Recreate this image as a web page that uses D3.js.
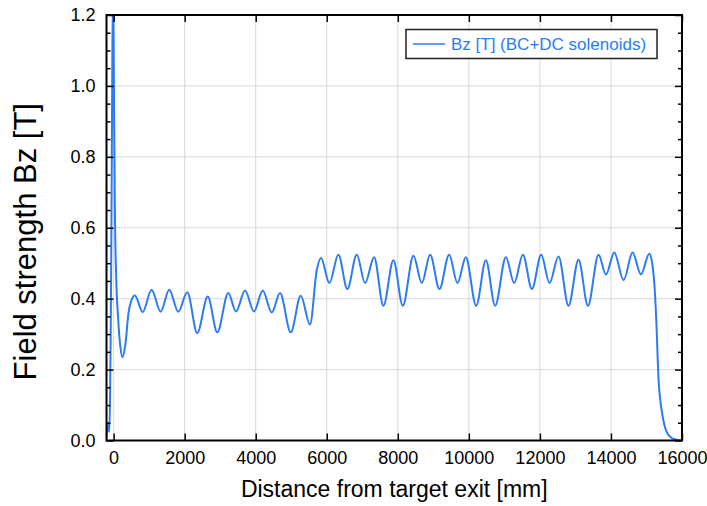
<!DOCTYPE html>
<html>
<head>
<meta charset="utf-8">
<script src="https://cdn.jsdelivr.net/npm/d3@7"></script>
<style>
  html, body { margin: 0; padding: 0; background: #fff; }
  svg { display: block; font-family: "Liberation Sans", Arial, Helvetica, sans-serif; }
</style>
</head>
<body>
<svg id="chart" width="707" height="506"></svg>
<script>
// Axial field profile along the beam line: position [mm] and Bz [T]
const zPos = [
  -200, -180, -160, -140, -120, -100, -80, -60, -40, -22, -5, 15, 40, 70, 130, 190, 250, 330, 420, 500,
  600, 817, 1070, 1324, 1566, 1820, 2073, 2355, 2650, 2918,
  3228, 3445, 3699, 3952, 4197, 4451, 4685, 4986, 5268, 5530,
  5718, 5839, 6073, 6327, 6580, 6845, 7079, 7332, 7594, 7876,
  8141, 8440, 8676, 8910, 9172, 9445, 9679, 9915, 10206, 10479,
  10741, 11042, 11276, 11521, 11775, 12037, 12270, 12524, 12806, 13087,
  13352, 13651, 13859, 14093, 14355, 14608, 14845, 15079, 15160, 15230,
  15276, 15341, 15400, 15437, 15500, 15577, 15700, 15850, 16000
];
const bz = [
  0.005, 0.035, 0.05, 0.03, 0.025, 0.12, 0.32, 0.62, 1.0, 1.24, 1.22, 0.9, 0.62, 0.47, 0.34, 0.265, 0.235, 0.27, 0.36, 0.395,
  0.409, 0.362, 0.425, 0.363, 0.425, 0.363, 0.418, 0.303, 0.406, 0.305,
  0.416, 0.364, 0.423, 0.364, 0.423, 0.361, 0.416, 0.305, 0.408, 0.327,
  0.48, 0.515, 0.444, 0.524, 0.427, 0.524, 0.444, 0.517, 0.380, 0.508,
  0.380, 0.521, 0.444, 0.524, 0.427, 0.524, 0.444, 0.517, 0.380, 0.508,
  0.380, 0.517, 0.444, 0.524, 0.427, 0.524, 0.444, 0.519, 0.380, 0.510,
  0.380, 0.524, 0.468, 0.530, 0.452, 0.530, 0.468, 0.527, 0.50, 0.43,
  0.34, 0.17, 0.105, 0.079, 0.045, 0.022, 0.008, 0.002, 0.0
];
const xTicks = [0, 2000, 4000, 6000, 8000, 10000, 12000, 14000, 16000];
const yTicks = [0.0, 0.2, 0.4, 0.6, 0.8, 1.0, 1.2];
const yMinor = [0.05, 0.1, 0.15, 0.25, 0.3, 0.35, 0.45, 0.5, 0.55, 0.65, 0.7, 0.75, 0.85, 0.9, 0.95, 1.05, 1.1, 1.15];
const seriesName = "Bz [T] (BC+DC solenoids)";

const svg = d3.select("#chart");
const L = 106.5, R = 682, T = 15, B = 440.5;
const blue = "#2b7bf6";

const x = d3.scaleLinear().domain([-200, 16000]).range([L, R]);
const y = d3.scaleLinear().domain([0, 1.2]).range([B, T]);

// grid
const grid = svg.append("g").attr("stroke", "#d8d8d8").attr("stroke-width", 1);
grid.selectAll("line.gx").data(xTicks).join("line")
  .attr("x1", d => x(d)).attr("x2", d => x(d)).attr("y1", T).attr("y2", B);
grid.selectAll("line.gy").data(yTicks).join("line")
  .attr("x1", L).attr("x2", R).attr("y1", d => y(d)).attr("y2", d => y(d));

// curve, clipped to the plot area (the peak near z=0 runs past 1.2 T)
svg.append("clipPath").attr("id", "plotClip")
  .append("rect").attr("x", L).attr("y", T).attr("width", R - L).attr("height", B - T);
const pts = zPos.map((z, i) => [z, bz[i]]);
svg.append("path").datum(pts)
  .attr("clip-path", "url(#plotClip)")
  .attr("fill", "none").attr("stroke", blue).attr("stroke-width", 2)
  .attr("stroke-linejoin", "round")
  .attr("d", d3.line().x(d => x(d[0])).y(d => y(d[1])).curve(d3.curveMonotoneX));

// axes with inward ticks
const fmtY = d3.format(".1f");
svg.append("g").attr("transform", `translate(0,${B})`)
  .call(d3.axisBottom(x).tickValues(xTicks).tickSize(-7).tickPadding(11).tickFormat(d3.format("d")));
svg.append("g").attr("transform", `translate(0,${T})`)
  .call(d3.axisTop(x).tickValues(xTicks).tickSize(-7).tickFormat(""));
svg.append("g").attr("transform", `translate(${L},0)`)
  .call(d3.axisLeft(y).tickValues(yTicks).tickSize(-7).tickPadding(11).tickFormat(fmtY));
svg.append("g").attr("transform", `translate(${R},0)`)
  .call(d3.axisRight(y).tickValues(yTicks).tickSize(-7).tickFormat(""));
svg.append("g").attr("transform", `translate(${L},0)`)
  .call(d3.axisLeft(y).tickValues(yMinor).tickSize(-4).tickFormat(""));
svg.append("g").attr("transform", `translate(${R},0)`)
  .call(d3.axisRight(y).tickValues(yMinor).tickSize(-4).tickFormat(""));

svg.selectAll(".domain").remove();
svg.selectAll(".tick line").attr("stroke", "#000").attr("stroke-width", 1.5);
svg.selectAll(".tick text").attr("fill", "#000").attr("font-size", 18)
  .attr("font-family", "'Liberation Sans', Arial, sans-serif");

// frame
svg.append("rect").attr("x", L).attr("y", T).attr("width", R - L).attr("height", B - T)
  .attr("fill", "none").attr("stroke", "#000").attr("stroke-width", 2);

// axis titles
svg.append("text").attr("x", (L + R) / 2).attr("y", 497)
  .attr("text-anchor", "middle").attr("font-size", 23).text("Distance from target exit [mm]");
svg.append("text").attr("transform", `translate(36,${(T + B) / 2 + 14}) rotate(-90)`)
  .attr("text-anchor", "middle").attr("font-size", 31).text("Field strength Bz [T]");

// legend
const lg = svg.append("g");
lg.append("rect").attr("x", 406).attr("y", 29.5).attr("width", 251).attr("height", 29)
  .attr("fill", "#fff").attr("stroke", "#222").attr("stroke-width", 1.5);
lg.append("line").attr("x1", 413).attr("x2", 445).attr("y1", 44).attr("y2", 44)
  .attr("stroke", blue).attr("stroke-width", 1.5);
lg.append("text").attr("x", 451).attr("y", 50).attr("font-size", 17).attr("fill", blue)
  .text(seriesName);
</script>
</body>
</html>
